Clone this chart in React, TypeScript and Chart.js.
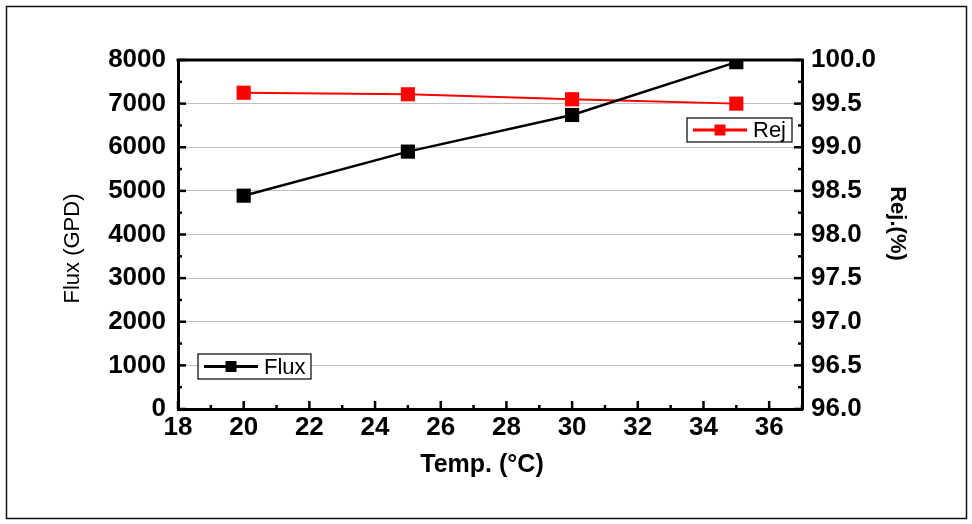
import React, { useEffect, useRef } from "react";
import { Chart, registerables } from "chart.js";

Chart.register(...registerables);

const temps = [20, 25, 30, 35];
const flux = [4890, 5900, 6740, 7950];
const rej = [99.625, 99.607, 99.55, 99.5];
const fluxLabel = "Flux";
const rejLabel = "Rej";
const xTitle = "Temp. (°C)";
const yTitle = "Flux (GPD)";
const y1Title = "Rej.(%)";

const FONT = "'Liberation Sans', Arial, sans-serif";

const framePlugin = {
  id: "framePlugin",
  beforeDraw(chart: any) {
    const { ctx, width, height } = chart;
    ctx.save();
    ctx.fillStyle = "#fff";
    ctx.fillRect(0, 0, width, height);
    ctx.restore();
  },
  afterDraw(chart: any) {
    const { ctx, chartArea: ca, scales } = chart;
    ctx.save();
    // outer border
    ctx.strokeStyle = "#111";
    ctx.lineWidth = 1.5;
    ctx.strokeRect(6.5, 6.5, 960, 512);
    // top border of plot box
    ctx.strokeStyle = "#000";
    ctx.lineWidth = 3;
    ctx.beginPath();
    ctx.moveTo(ca.left - 1.5, ca.top);
    ctx.lineTo(ca.right + 1.5, ca.top);
    ctx.stroke();
    // inward ticks
    ctx.lineWidth = 2.5;
    const line = (x1: number, y1: number, x2: number, y2: number) => {
      ctx.beginPath();
      ctx.moveTo(x1, y1);
      ctx.lineTo(x2, y2);
      ctx.stroke();
    };
    const drawTicks = (scale: any, draw: (p: number, len: number) => void) => {
      const t = scale.ticks.map((k: any) => k.value);
      for (let i = 0; i < t.length; i++) {
        draw(scale.getPixelForValue(t[i]), 8);
        const next = i < t.length - 1 ? t[i + 1] : t[i] + (t[1] - t[0]);
        const mid = (t[i] + next) / 2;
        if (mid <= scale.max + 1e-9) draw(scale.getPixelForValue(mid), 4);
      }
    };
    drawTicks(scales.x, (p, len) => line(p, ca.bottom, p, ca.bottom - len));
    drawTicks(scales.y, (p, len) => line(ca.left, p, ca.left + len, p));
    drawTicks(scales.y1, (p, len) => line(ca.right, p, ca.right - len, p));

    // axis titles
    ctx.fillStyle = "#000";
    ctx.textAlign = "center";
    ctx.textBaseline = "middle";
    ctx.font = `bold 25px ${FONT}`;
    ctx.fillText(xTitle, (ca.left + ca.right) / 2 - 8, ca.bottom + 56);
    ctx.save();
    ctx.translate(ca.left - 105, (ca.top + ca.bottom) / 2 + 14);
    ctx.rotate(-Math.PI / 2);
    ctx.font = `22px ${FONT}`;
    ctx.fillText(yTitle, 0, 0);
    ctx.restore();
    ctx.save();
    ctx.translate(ca.right + 95, (ca.top + ca.bottom) / 2 - 11);
    ctx.rotate(Math.PI / 2);
    ctx.font = `bold 22px ${FONT}`;
    ctx.fillText(y1Title, 0, 0);
    ctx.restore();

    // legends
    const legend = (
      bx: number,
      by: number,
      bw: number,
      bh: number,
      color: string,
      label: string
    ) => {
      ctx.lineWidth = 1.2;
      ctx.strokeStyle = "#000";
      ctx.fillStyle = "#fff";
      ctx.fillRect(bx, by, bw, bh);
      ctx.strokeRect(bx, by, bw, bh);
      const my = by + bh / 2;
      ctx.strokeStyle = color;
      ctx.lineWidth = 3;
      line(bx + 6, my, bx + 60, my);
      ctx.fillStyle = color;
      ctx.fillRect(bx + 33 - 5.5, my - 5.5, 11, 11);
      ctx.fillStyle = "#000";
      ctx.font = `22px ${FONT}`;
      ctx.textBaseline = "middle";
      ctx.textAlign = "left";
      ctx.fillText(label, bx + 66, my + 1);
    };
    legend(ca.left + 20, ca.top + 294, 113, 25, "#000", fluxLabel);
    legend(ca.right - 115, ca.top + 58, 105, 24, "#ff0000", rejLabel);
    ctx.restore();
  },
};

export default function App() {
  const ref = useRef<HTMLCanvasElement | null>(null);
  useEffect(() => {
    if (!ref.current) return;
    const tickFont = { family: FONT, size: 26, weight: "bold" as const };
    const chart = new Chart(ref.current, {
      type: "line",
      data: {
        datasets: [
          {
            label: fluxLabel,
            data: temps.map((t, i) => ({ x: t, y: flux[i] })),
            borderColor: "#000",
            backgroundColor: "#000",
            borderWidth: 2.5,
            pointStyle: "rect",
            pointRadius: 10,
            pointBorderWidth: 0,
            yAxisID: "y",
          },
          {
            label: rejLabel,
            data: temps.map((t, i) => ({ x: t, y: rej[i] })),
            borderColor: "#ff0000",
            backgroundColor: "#ff0000",
            borderWidth: 2,
            pointStyle: "rect",
            pointRadius: 10,
            pointBorderWidth: 0,
            yAxisID: "y1",
          },
        ],
      },
      options: {
        responsive: false,
        animation: false,
        layout: { padding: { top: 60, left: 0, right: 0, bottom: 0 } },
        plugins: { legend: { display: false }, tooltip: { enabled: false } },
        scales: {
          x: {
            type: "linear",
            min: 18,
            max: 37,
            ticks: {
              stepSize: 2,
              includeBounds: false,
              color: "#000",
              padding: 3,
              font: tickFont,
            },
            grid: { display: false, drawTicks: false },
            border: { display: true, color: "#000", width: 3 },
            afterFit: (s: any) => {
              s.height = 115;
            },
          },
          y: {
            type: "linear",
            position: "left",
            min: 0,
            max: 8000,
            ticks: {
              stepSize: 1000,
              color: "#000",
              padding: 12,
              callback: (v: any) => String(v),
              font: tickFont,
            },
            grid: {
              drawTicks: false,
              lineWidth: 1,
              color: (c: any) =>
                c.tick && (c.tick.value === 0 || c.tick.value === 8000)
                  ? "rgba(0,0,0,0)"
                  : "#c0c0c0",
            },
            border: { display: true, color: "#000", width: 3 },
            afterFit: (s: any) => {
              s.width = 178;
            },
          },
          y1: {
            type: "linear",
            position: "right",
            min: 96,
            max: 100,
            ticks: {
              stepSize: 0.5,
              color: "#000",
              padding: 9,
              callback: (v: any) => Number(v).toFixed(1),
              font: tickFont,
            },
            grid: { display: false, drawTicks: false },
            border: { display: true, color: "#000", width: 3 },
            afterFit: (s: any) => {
              s.width = 170;
            },
          },
        },
      },
      plugins: [framePlugin],
    });
    return () => chart.destroy();
  }, []);
  return (
    <div style={{ position: "absolute", left: 0, top: 0, width: 972, height: 524 }}>
      <canvas ref={ref} width={972} height={524} />
    </div>
  );
}
